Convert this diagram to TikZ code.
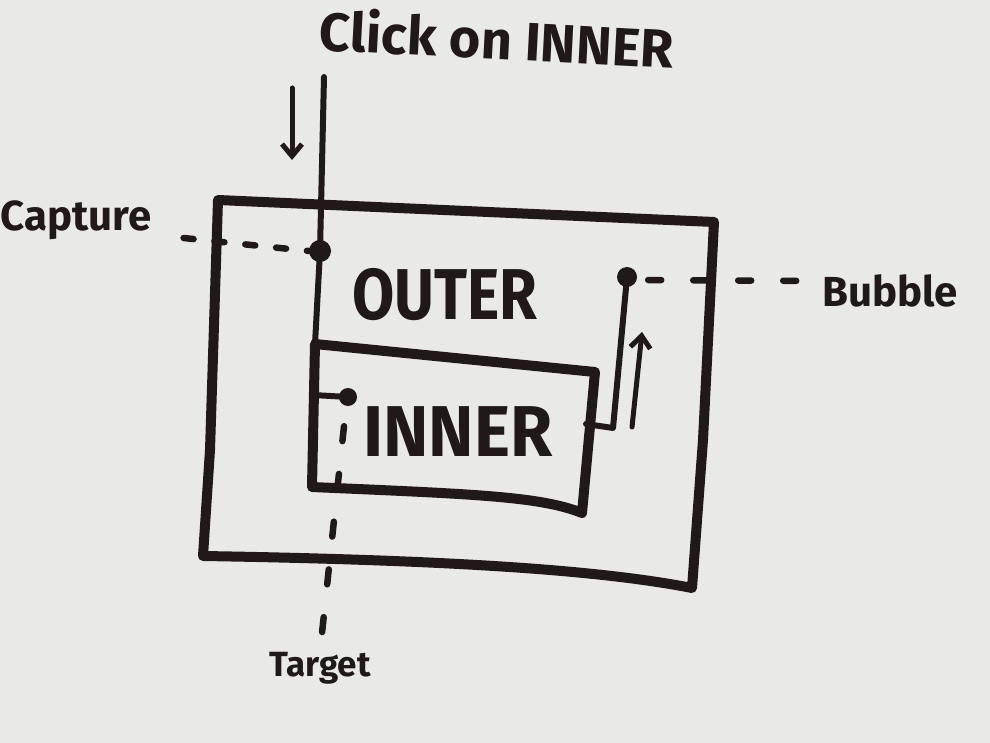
\documentclass[tikz,border=0pt]{standalone}
\usepackage{fontspec}
\setmainfont{Fira Sans}
\usetikzlibrary{arrows.meta}
\definecolor{ink}{RGB}{32,25,23}
\definecolor{paper}{RGB}{233,233,231}
\begin{document}
\begin{tikzpicture}[x=1pt,y=-1pt, line join=round, line cap=round,
  boxline/.style={draw=ink, line width=10pt},
  wire/.style={draw=ink, line width=6pt},
  dashline/.style={draw=ink, line width=6.5pt},
  arrowline/.style={draw=ink, line width=5pt, -{Straight Barb[length=12pt,width=20pt,line width=5pt]}},
  dotmark/.style={circle, fill=ink, inner sep=0pt, minimum size=#1},
  dotmark/.default=18pt,
  lbl/.style={text=ink, font=\bfseries, inner sep=0pt}]
\fill[paper] (0,0) rectangle (990,743);
\useasboundingbox (0,0) rectangle (990,743);

% texts
\node[lbl, rotate=-3, xscale=1.0] (click) at (497,38) {\fontsize{54}{54}\selectfont Click on INNER};
\node[lbl, xscale=0.85] (outer) at (445,295) {\fontsize{72}{72}\selectfont OUTER};
\node[lbl, xscale=0.95] (inner) at (458,432) {\fontsize{72}{72}\selectfont INNER};
\node[lbl] (capture) at (76,220) {\fontsize{42}{42}\selectfont Capture};
\node[lbl] (bubble) at (890,291) {\fontsize{42}{42}\selectfont Bubble};
\node[lbl] (target) at (320,668) {\fontsize{35}{35}\selectfont Target};

% outer box
\draw[boxline] (218,200) -- (714,222) -- (703,440) -- (692,588)
  .. controls (600,570) and (450,560) .. (203,556) -- (210,450) -- cycle;
% inner box
\draw[boxline] (315,344) -- (595,372) -- (582,513)
  .. controls (540,496) and (470,494) .. (312,487) -- cycle;

% coordinates and dots
\coordinate (top) at (324,77);
\node[dotmark=22pt] (capdot) at (320,251) {};
\node[dotmark=18pt] (innerdot) at (348,397) {};
\node[dotmark=20pt] (bubdot) at (627,277) {};
\coordinate (innercorner) at (315,344);
\coordinate (stub) at (313,395);
\coordinate (rstub) at (586,424);
\coordinate (rbend) at (613,428);

% event wire
\draw[wire] (top) -- (capdot.center) -- (innercorner);
\draw[wire] (stub) -- (innerdot.center);
\draw[wire] (rstub) -- (rbend) -- (bubdot.center);

% dashed lines
\draw[dashline, dash pattern=on 10pt off 21pt] (capture.east |- 0,238) ++(32,0) coordinate (capstart) -- (capdot.west);
\draw[dashline, dash pattern=on 13pt off 32pt] (bubdot.east) ++(11,3) -- (bubble.west |- 0,281);
\draw[dashline, dash pattern=on 15pt off 33pt] (innerdot.south) ++(-4,20) -- (target.north);

% arrows
\coordinate (dnA) at (292,88);
\coordinate (dnB) at (292,160);
\coordinate (upA) at (632,427);
\coordinate (upB) at (642,332);
\draw[arrowline] (dnA) -- (dnB);
\draw[arrowline] (upA) -- (upB);
\end{tikzpicture}
\end{document}
